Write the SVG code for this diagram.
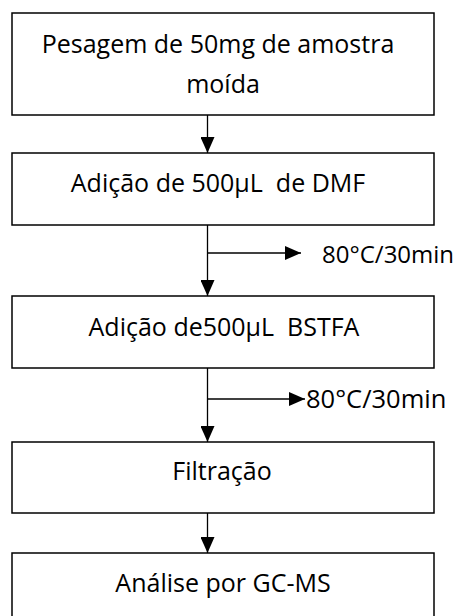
<svg xmlns="http://www.w3.org/2000/svg" width="464" height="616" viewBox="0 0 464 616">
  <style>
    .box { fill: #ffffff; stroke: #000000; stroke-width: 1.5; }
    .lbl { font-family: "Open Sans", "Liberation Sans", sans-serif; font-size: 25px; fill: #000000; text-anchor: middle; white-space: pre; }
    .side { font-family: "Open Sans", "Liberation Sans", sans-serif; fill: #000000; }
    .line { stroke: #000000; stroke-width: 1.3; fill: none; }
  </style>
  <defs>
    <marker id="arrow" viewBox="0 0 16 14" refX="16" refY="7" markerWidth="16" markerHeight="14" markerUnits="userSpaceOnUse" orient="auto">
      <path d="M0,0 L16,7 L0,14 Z" fill="#000000"/>
    </marker>
  </defs>
  <rect width="464" height="616" fill="#ffffff"/>

  <g id="connectors">
    <line class="line" x1="207.5" y1="115" x2="207.5" y2="153" marker-end="url(#arrow)"/>
    <line class="line" x1="207.5" y1="225" x2="207.5" y2="296" marker-end="url(#arrow)"/>
    <line class="line" x1="207.5" y1="253" x2="301" y2="253" marker-end="url(#arrow)"/>
    <line class="line" x1="207.5" y1="368" x2="207.5" y2="442" marker-end="url(#arrow)"/>
    <line class="line" x1="207.5" y1="399" x2="305" y2="399" marker-end="url(#arrow)"/>
    <line class="line" x1="207.5" y1="513" x2="207.5" y2="553" marker-end="url(#arrow)"/>
  </g>

  <g id="step-weigh">
    <rect class="box" x="12" y="13" width="422" height="102"/>
    <text class="lbl" x="218" y="53">Pesagem de 50mg de amostra</text>
    <text class="lbl" x="223" y="93">moída</text>
  </g>

  <g id="step-dmf">
    <rect class="box" x="12" y="153" width="422" height="72"/>
    <text class="lbl" x="218" y="192" xml:space="preserve">Adição de 500µL  de DMF</text>
  </g>

  <g id="heat-1">
    <text class="side" x="322" y="263" font-size="24">80°C/30min</text>
  </g>

  <g id="step-bstfa">
    <rect class="box" x="12" y="296" width="422" height="72"/>
    <text class="lbl" x="224" y="336" xml:space="preserve">Adição de500µL  BSTFA</text>
  </g>

  <g id="heat-2">
    <text class="side" x="306" y="408" font-size="25.5">80°C/30min</text>
  </g>

  <g id="step-filter">
    <rect class="box" x="12" y="442" width="422" height="71"/>
    <text class="lbl" x="222" y="480">Filtração</text>
  </g>

  <g id="step-gcms">
    <rect class="box" x="12" y="553" width="422" height="80"/>
    <text class="lbl" x="223" y="592">Análise por GC-MS</text>
  </g>
</svg>
